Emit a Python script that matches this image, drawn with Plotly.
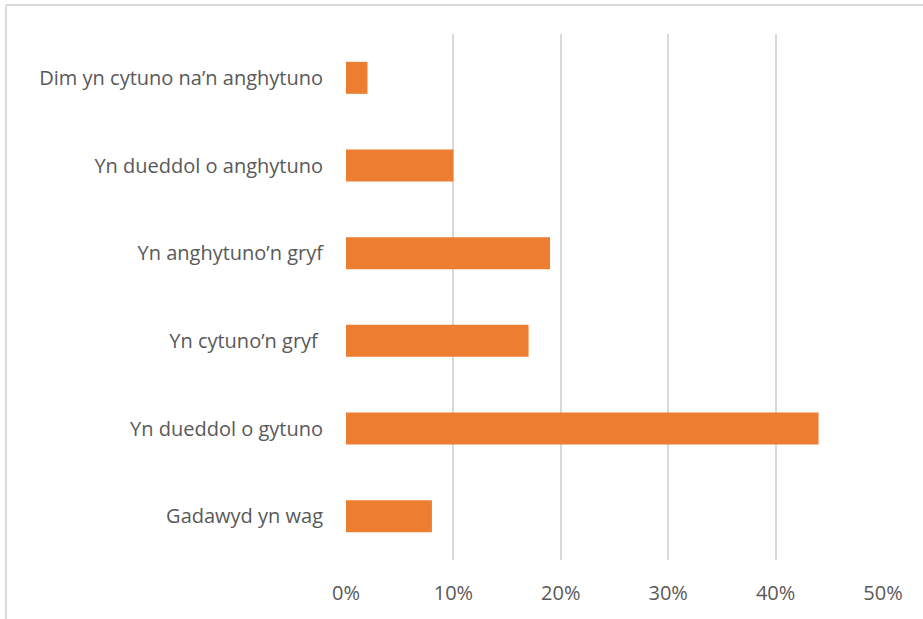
import plotly.graph_objects as go

categories = [
    "Gadawyd yn wag",
    "Yn dueddol o gytuno",
    "Yn cytuno\u2019n gryf\u00a0",
    "Yn anghytuno\u2019n gryf",
    "Yn dueddol o anghytuno",
    "Dim yn cytuno na\u2019n anghytuno",
]
values = [0.08, 0.44, 0.17, 0.19, 0.10, 0.02]
tick_vals = [0, 0.1, 0.2, 0.3, 0.4, 0.5]
tick_text = ["0%", "10%", "20%", "30%", "40%", "50%"]

W, H = 923, 619
L, R, T, B = 346, 40, 34, 59
pw, ph = W - L - R, H - T - B

fig = go.Figure(go.Bar(
    x=values, y=categories, orientation="h",
    marker=dict(color="#ED7D31", line=dict(width=0)),
    width=0.365,
))

font = dict(family="Open Sans, sans-serif", size=20, color="#595959")

fig.update_layout(
    width=W, height=H,
    margin=dict(l=L, r=R, t=T, b=B),
    paper_bgcolor="white", plot_bgcolor="white",
    showlegend=False,
    font=font,
    xaxis=dict(range=[0, 0.5], tickvals=tick_vals, ticktext=tick_text,
               showgrid=True, gridcolor="#d9d9d9", gridwidth=1.5,
               zeroline=False, showline=False, ticks="",
               ticklabelstandoff=19, tickfont=font, fixedrange=True),
    yaxis=dict(showgrid=False, zeroline=False, showline=False, ticks="",
               ticklabelstandoff=22, tickfont=font, fixedrange=True),
)

bx = (6 - L) / pw
by = 1 + (T - 5) / ph
fig.add_shape(type="line", xref="paper", yref="paper", x0=bx, x1=bx, y0=by, y1=-0.5,
              line=dict(color="#d9d9d9", width=2))
fig.add_shape(type="line", xref="paper", yref="paper", x0=bx, x1=1.5, y0=by, y1=by,
              line=dict(color="#d9d9d9", width=2))

fig.write_html("out.html", config={"displayModeBar": False},
               post_script="document.body.style.margin='0';document.body.style.overflow='hidden';")
